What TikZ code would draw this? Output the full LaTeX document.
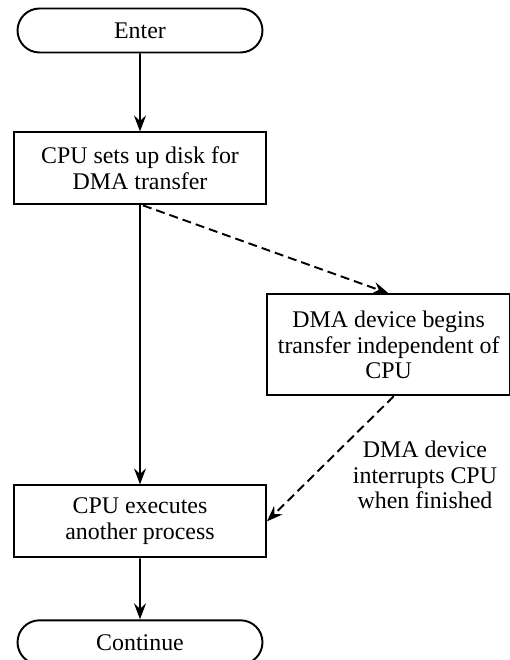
\documentclass[tikz,border=0pt]{standalone}
\usepackage{fontspec}
\setmainfont{Liberation Serif}
\usetikzlibrary{shapes.misc, arrows.meta, positioning}
\newcommand{\flowfont}{\fontsize{13.6}{14.5}\selectfont}
\tikzset{
  terminal/.style={rounded rectangle, draw=black, line width=1.1pt,
                   minimum width=5.04cm, minimum height=0.88cm, inner sep=2pt,
                   font=\flowfont},
  block/.style={rectangle, draw=black, line width=1.1pt, minimum width=5.04cm,
                minimum height=1.44cm, align=center, inner sep=2pt, font=\flowfont},
  arrow/.style={-{Stealth[length=0.32cm, width=0.24cm, inset=0.11cm]}, draw=black,
                line width=1.1pt},
  darrow/.style={arrow, dash pattern=on 0.18cm off 0.1cm},
  note/.style={align=center, font=\flowfont, inner sep=1pt},
}
\begin{document}
\begin{tikzpicture}
  \useasboundingbox (0,0) rectangle (10.2,-13.2);
  % Terminals and CPU steps
  \node[terminal] (enter) at (2.8,-0.61) {Enter};
  \node[block, below=1.56cm of enter] (setup) {CPU sets up disk for\\DMA transfer};
  \node[block, below=5.58cm of setup] (exec) {CPU executes\\another process};
  \node[terminal, below=1.22cm of exec] (cont) {Continue};

  % DMA side
  \node[block, minimum width=4.87cm, minimum height=2.02cm,
        below right=1.76cm and -0.02cm of setup] (dma)
        {DMA device begins\\transfer independent of\\CPU};
  \node[note] (irq) at (8.5,-9.5) {DMA device\\interrupts CPU\\when finished};

  % Edges
  \draw[arrow] (enter) -- (setup);
  \draw[arrow] (setup) -- (exec);
  \draw[arrow] (exec) -- (cont);
  \draw[darrow] ([xshift=0.06cm]setup.south) -- (dma.north);
  \draw[darrow] ([xshift=0.1cm]dma.south) -- (exec.east);
\end{tikzpicture}
\end{document}
